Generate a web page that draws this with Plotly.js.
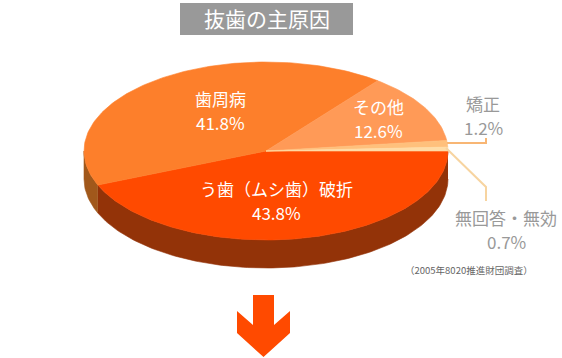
<!DOCTYPE html>
<html>
<head>
<meta charset="utf-8">
<script src="https://cdn.plot.ly/plotly-3.0.1.min.js"></script>
<style>html,body{margin:0;padding:0;background:#fff;}#chart{width:562px;height:358px;}</style>
</head>
<body>
<div id="chart"></div>
<script>
// ---- data ----
const categories = ['う歯（ムシ歯）破折', '歯周病', 'その他', '矯正', '無回答・無効'];
const values = [43.8, 41.8, 12.6, 1.2, 0.7];
const chartTitle = '抜歯の主原因';
const sourceNote = '（2005年8020推進財団調査）';

// ---- style ----
const topColors = ['#ff4a00', '#fd7f2b', '#ff9a57', '#ffc07c', '#ffdca6'];
const sideColors = ['#933308', '#a1581b', '#c9773a', '#d99a5a', '#e0b27a'];
const CX = 266, CY = 151, RX = 182, RY = 89, DEPTH = 28;
const FONT = '"Noto Sans CJK JP", "Noto Sans", sans-serif';

function pt(t, dy) { return [CX + RX * Math.cos(t), CY + RY * Math.sin(t) + (dy || 0)]; }
function arc(t0, t1, dy) {
  const n = Math.max(2, Math.ceil(Math.abs(t1 - t0) / 0.02));
  const xs = [], ys = [];
  for (let i = 0; i <= n; i++) { const p = pt(t0 + (t1 - t0) * i / n, dy); xs.push(p[0]); ys.push(p[1]); }
  return [xs, ys];
}

const total = values.reduce((a, b) => a + b, 0);
const slices = [];
let acc = 0;
values.forEach((v, i) => {
  const s = acc / total * 2 * Math.PI;
  acc += v;
  const e = acc / total * 2 * Math.PI;
  slices.push({s, e, i});
});

const traces = [];
// sides (visible front half: 0..PI)
slices.forEach(sl => {
  const s = Math.max(sl.s, 0), e = Math.min(sl.e, Math.PI);
  if (e <= s) return;
  const [tx, ty] = arc(s, e, 0);
  const [bx, by] = arc(e, s, DEPTH);
  traces.push({
    type: 'scatter', mode: 'lines', x: tx.concat(bx), y: ty.concat(by),
    fill: 'toself', fillcolor: sideColors[sl.i],
    line: {width: 0.6, color: sideColors[sl.i]}, hoverinfo: 'skip', showlegend: false
  });
});
// tops
slices.forEach(sl => {
  const [ax, ay] = arc(sl.s, sl.e, 0);
  traces.push({
    type: 'scatter', mode: 'lines', x: [CX].concat(ax, [CX]), y: [CY].concat(ay, [CY]),
    fill: 'toself', fillcolor: topColors[sl.i],
    line: {width: 0.6, color: topColors[sl.i]}, name: categories[sl.i],
    hoverinfo: 'name', showlegend: false
  });
});

const pct = v => v.toFixed(1) + '%';
const labelPos = [
  {x: 276, y: 200, color: '#ffffff'},
  {x: 220, y: 110.5, color: '#ffffff'},
  {x: 378, y: 118, color: '#ffffff'},
  {x: 483, y: 115, color: '#999999'},
  {x: 506, y: 229, color: '#999999'}
];
const annotations = [];
categories.forEach((c, i) => {
  const p = labelPos[i];
  annotations.push({x: p.x, y: p.y - 12, xref: 'x', yref: 'y', text: c, showarrow: false, borderpad: 0,
    font: {family: FONT, size: 17, color: p.color}, xanchor: 'center', yanchor: 'middle'});
  annotations.push({x: p.x, y: p.y + 12, xref: 'x', yref: 'y', text: pct(values[i]), showarrow: false, borderpad: 0,
    font: {family: FONT, size: 17, color: p.color}, xanchor: 'center', yanchor: 'middle'});
});
annotations.push({x: 266.5, y: 18, xref: 'x', yref: 'y', text: chartTitle, showarrow: false,
  font: {family: FONT, size: 21, color: '#ffffff'}, xanchor: 'center', yanchor: 'middle'});
annotations.push({x: 468.5, y: 270, xref: 'x', yref: 'y', text: sourceNote, showarrow: false,
  font: {family: FONT, size: 9.5, color: '#666666'}, xanchor: 'center', yanchor: 'middle'});

const shapes = [
  {type: 'rect', xref: 'x', yref: 'y', x0: 180, x1: 353, y0: 3, y1: 35, fillcolor: '#999999', line: {width: 0}, layer: 'below'},
  {type: 'path', xref: 'x', yref: 'y', path: 'M447,143 L486,143 L486,138', line: {color: '#f8b674', width: 2}},
  {type: 'path', xref: 'x', yref: 'y', path: 'M446,148 L486,187 L486,201', line: {color: '#f7d4a0', width: 2}},
  {type: 'path', xref: 'x', yref: 'y', path: 'M253,295 L274,295 L274,325 L290,311 L290,333 L263.5,357 L237,333 L237,311 L253,325 Z',
   fillcolor: '#ff4a00', line: {width: 0}}
];

const layout = {
  width: 562, height: 358,
  margin: {l: 0, r: 0, t: 0, b: 0},
  paper_bgcolor: '#ffffff', plot_bgcolor: '#ffffff',
  xaxis: {range: [0, 562], visible: false, fixedrange: true},
  yaxis: {range: [358, 0], visible: false, fixedrange: true},
  showlegend: false,
  annotations, shapes
};
Plotly.newPlot('chart', traces, layout, {displayModeBar: false, staticPlot: true});
</script>
</body>
</html>
